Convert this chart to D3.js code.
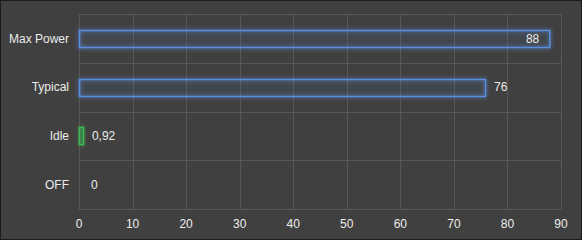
<!DOCTYPE html>
<html>
<head>
<meta charset="utf-8">
<script src="https://cdn.jsdelivr.net/npm/d3@7"></script>
<style>
  html, body { margin: 0; padding: 0; background: #404040; }
  svg { display: block; }
  text { font-family: "Liberation Sans", Arial, sans-serif; font-size: 12px; fill: #ececec; }
</style>
</head>
<body>
<svg width="582" height="240"></svg>
<script>
// Chart data.
const categories = ["Max Power", "Typical", "Idle", "OFF"];
const values = [88, 76, 0.92, 0];
const labels = ["88", "76", "0,92", "0"];
const barColors = ["#5b8ee0", "#5b8ee0", "#3dbb55", "#5b8ee0"];
const xTicks = [0, 10, 20, 30, 40, 50, 60, 70, 80, 90];

let svg = d3.select("svg");
let width = +svg.attr("width");
let height = +svg.attr("height");

// Background and outer frame.
svg.append("rect")
    .attr("x", 0.5).attr("y", 0.5)
    .attr("width", width - 1).attr("height", height - 1)
    .style("fill", "#404040")
    .style("stroke", "#1c1c1c");

let margin = { left: 79, right: 21, top: 14, bottom: 31 };

let x = d3.scaleLinear().domain([0, 90]).range([margin.left, width - margin.right]);
let y = d3.scaleBand().domain(categories).range([margin.top, height - margin.bottom]).paddingInner(0).paddingOuter(0);

// Glow filter for the bars.
let defs = svg.append("defs");
let glow = defs.append("filter").attr("id", "glow")
    .attr("x", "-50%").attr("y", "-50%").attr("width", "200%").attr("height", "200%");
glow.append("feGaussianBlur").attr("in", "SourceGraphic").attr("stdDeviation", 2).attr("result", "blur");
let merge = glow.append("feMerge");
merge.append("feMergeNode").attr("in", "blur");
merge.append("feMergeNode").attr("in", "SourceGraphic");

// Grid lines.
let grid = svg.append("g");
grid.selectAll("line.v")
    .data(xTicks)
    .enter().append("line")
    .attr("x1", d => Math.round(x(d)) + 0.5)
    .attr("x2", d => Math.round(x(d)) + 0.5)
    .attr("y1", margin.top)
    .attr("y2", height - margin.bottom)
    .style("stroke", "#575757");
let rowEdges = categories.map(c => y(c)).concat([y.range()[1]]);
grid.selectAll("line.h")
    .data(rowEdges)
    .enter().append("line")
    .attr("x1", margin.left)
    .attr("x2", width - margin.right)
    .attr("y1", d => Math.round(d) + 0.5)
    .attr("y2", d => Math.round(d) + 0.5)
    .style("stroke", "#575757");

// Bars.
let barH = 17;
let bars = svg.append("g");
categories.forEach(function (c, i) {
    if (values[i] <= 0) return;
    let cy = y(c) + y.bandwidth() / 2;
    bars.append("rect")
        .attr("x", x(0) + 0.5)
        .attr("y", Math.round(cy - barH / 2) + 0.5)
        .attr("width", Math.max(x(values[i]) - x(0) - 1, 3))
        .attr("height", barH)
        .style("fill", barColors[i])
        .style("fill-opacity", 0.04)
        .style("stroke", barColors[i])
        .style("stroke-width", 1.5)
        .attr("filter", "url(#glow)");
});

// Value labels: inside the bar when it would run past the plot.
categories.forEach(function (c, i) {
    let cy = y(c) + y.bandwidth() / 2;
    let inside = x(values[i]) + 30 > width - margin.right;
    svg.append("text")
        .attr("x", inside ? x(values[i]) - 11 : Math.max(x(values[i]), x(0) + 4) + 8)
        .attr("y", cy)
        .attr("dy", "0.36em")
        .attr("text-anchor", inside ? "end" : "start")
        .text(labels[i]);
});

// Category labels.
svg.append("g").selectAll("text")
    .data(categories)
    .enter().append("text")
    .attr("x", margin.left - 10)
    .attr("y", d => y(d) + y.bandwidth() / 2)
    .attr("dy", "0.36em")
    .attr("text-anchor", "end")
    .text(d => d);

// X tick labels.
svg.append("g").selectAll("text")
    .data(xTicks)
    .enter().append("text")
    .attr("x", d => x(d))
    .attr("y", 228)
    .attr("text-anchor", "middle")
    .text(d => d);
</script>
</body>
</html>
